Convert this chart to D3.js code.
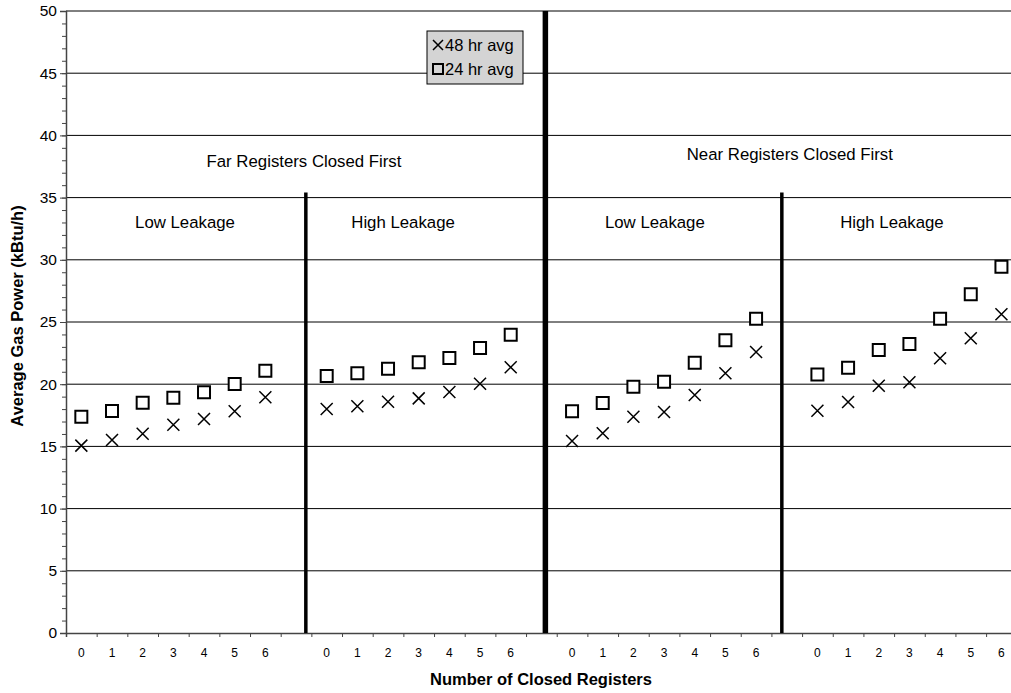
<!DOCTYPE html>
<html>
<head>
<meta charset="utf-8">
<script src="https://cdn.jsdelivr.net/npm/d3@7"></script>
<style>
  html, body { margin: 0; padding: 0; background: #fff; }
  svg { display: block; font-family: "Liberation Sans", Arial, sans-serif; }
</style>
</head>
<body>
<svg id="chart" width="1011" height="693"></svg>
<script>
// ---- data ----
const groupNames = ["Far Low", "Far High", "Near Low", "Near High"];
const registerLabels = ["0", "1", "2", "3", "4", "5", "6"];
const avg48 = [
  [15.06, 15.51, 16.02, 16.74, 17.20, 17.82, 18.95],
  [18.01, 18.22, 18.59, 18.86, 19.37, 20.04, 21.36],
  [15.43, 16.05, 17.39, 17.77, 19.13, 20.88, 22.59],
  [17.87, 18.57, 19.88, 20.15, 22.08, 23.69, 25.62]
];
const avg24 = [
  [17.39, 17.85, 18.51, 18.91, 19.35, 20.02, 21.08],
  [20.66, 20.88, 21.25, 21.76, 22.11, 22.91, 23.98],
  [17.82, 18.49, 19.80, 20.20, 21.73, 23.53, 25.27],
  [20.77, 21.33, 22.75, 23.23, 25.27, 27.23, 29.45]
];
const yTicks = [0, 5, 10, 15, 20, 25, 30, 35, 40, 45, 50];
// separator lines: position in category units, top value, kind
const separators = [
  { pos: 7.82, top: 35.4, kind: "thin" },
  { pos: 15.63, top: 50, kind: "thick" },
  { pos: 23.34, top: 35.4, kind: "thin" }
];
const sectionLabels = [
  { text: "Far Registers Closed First", pos: 7.76, value: 37.5 },
  { text: "Near Registers Closed First", pos: 23.6, value: 38.0 },
  { text: "Low Leakage", pos: 3.88, value: 32.55 },
  { text: "High Leakage", pos: 10.99, value: 32.55 },
  { text: "Low Leakage", pos: 19.2, value: 32.55 },
  { text: "High Leakage", pos: 26.93, value: 32.55 }
];
const legendItems = [
  { label: "48 hr avg", symbol: "x" },
  { label: "24 hr avg", symbol: "square" }
];

// ---- build categories ----
const categories = [];
groupNames.forEach((g, gi) => {
  registerLabels.forEach((r, ri) => categories.push({ group: gi, reg: ri, label: r }));
  if (gi < groupNames.length - 1) categories.push({ group: gi, reg: null, label: "" });
});

// ---- layout ----
const FONT = "Liberation Sans, Arial, sans-serif";
const svg = d3.select("#chart");
const margin = { left: 66, top: 11 };
const plotBottom = 633;
const nCat = categories.length; // 31
const catW = 30.67;
const x = d3.scaleLinear().domain([0, nCat]).range([margin.left, margin.left + nCat * catW]);
const y = d3.scaleLinear().domain([0, 50]).range([plotBottom, margin.top]);

const plotRight = x(nCat);

// gridlines
svg.append("g").selectAll("line").data(yTicks.filter(d => d > 0)).join("line")
  .attr("x1", margin.left).attr("x2", plotRight)
  .attr("y1", d => y(d)).attr("y2", d => y(d))
  .attr("stroke", "#000").attr("stroke-width", 1);

// Y axis with minor ticks
const yMinor = d3.range(0, 51, 1);
const yAxisG = svg.append("g").attr("transform", `translate(${margin.left},0)`);
yAxisG.call(d3.axisLeft(y).tickValues(yMinor).tickSize(4).tickFormat(""))
  .call(g => g.select(".domain").remove())
  .call(g => g.selectAll("line").attr("stroke", "#444"));
const yMajorG = svg.append("g").attr("transform", `translate(${margin.left},0)`);
yMajorG.call(d3.axisLeft(y).tickValues(yTicks).tickSize(6).tickPadding(3))
  .call(g => g.select(".domain").attr("stroke", "#444").attr("stroke-width", 1.5))
  .call(g => g.selectAll("line").attr("stroke", "#444"))
  .call(g => g.selectAll("text").attr("font-size", 15.5).attr("fill", "#000")
    .attr("font-family", FONT));

// X axis line and ticks
const xAxisG = svg.append("g").attr("transform", `translate(0,${plotBottom})`);
xAxisG.call(d3.axisBottom(x).tickValues(d3.range(0, nCat + 1)).tickSize(4).tickFormat(""))
  .call(g => g.select(".domain").attr("stroke", "#444").attr("stroke-width", 1.5))
  .call(g => g.selectAll("line").attr("stroke", "#444"));

// X tick labels
svg.append("g").selectAll("text").data(categories).join("text")
  .attr("x", (d, i) => x(i + 0.5)).attr("y", 657)
  .attr("text-anchor", "middle").attr("font-size", 12).attr("fill", "#000")
  .attr("font-family", FONT)
  .text(d => d.label);

// separators
svg.append("g").selectAll("line").data(separators).join("line")
  .attr("x1", d => x(d.pos)).attr("x2", d => x(d.pos))
  .attr("y1", d => y(d.top)).attr("y2", plotBottom)
  .attr("stroke", "#000")
  .attr("stroke-width", d => d.kind === "thick" ? 5.5 : 3.5);

// section labels
svg.append("g").selectAll("text").data(sectionLabels).join("text")
  .attr("x", d => x(d.pos)).attr("y", d => y(d.value))
  .attr("text-anchor", "middle").attr("font-size", 16.8).attr("fill", "#000")
  .attr("font-family", FONT)
  .text(d => d.text);

// markers
function catIndex(gi, ri) { return gi * 8 + ri; }
const pts48 = [], pts24 = [];
avg48.forEach((arr, gi) => arr.forEach((v, ri) => pts48.push({ i: catIndex(gi, ri), v })));
avg24.forEach((arr, gi) => arr.forEach((v, ri) => pts24.push({ i: catIndex(gi, ri), v })));

const xSym = "M-6,-6L6,6M-6,6L6,-6";
const sqSym = "M-6,-6H6V6H-6Z";
svg.append("g").selectAll("path").data(pts48).join("path")
  .attr("transform", d => `translate(${x(d.i + 0.5)},${y(d.v)})`)
  .attr("d", xSym).attr("fill", "none").attr("stroke", "#000").attr("stroke-width", 1.5);
svg.append("g").selectAll("path").data(pts24).join("path")
  .attr("transform", d => `translate(${x(d.i + 0.5)},${y(d.v)})`)
  .attr("d", sqSym).attr("fill", "#fff").attr("stroke", "#000").attr("stroke-width", 2);

// legend
const lg = svg.append("g").attr("transform", "translate(427,31)");
lg.append("rect").attr("x", 0).attr("y", 0).attr("width", 96).attr("height", 53)
  .attr("fill", "#d4d4d4").attr("stroke", "#000").attr("stroke-width", 1);
const li = lg.selectAll("g.item").data(legendItems).join("g")
  .attr("transform", (d, i) => `translate(0,${14 + i * 24})`);
li.append("path")
  .attr("transform", "translate(11,0)")
  .attr("d", d => d.symbol === "x" ? "M-5,-5L5,5M-5,5L5,-5" : "M-5,-5H5V5H-5Z")
  .attr("fill", "none").attr("stroke", "#000")
  .attr("stroke-width", d => d.symbol === "x" ? 1.5 : 2);
li.append("text").attr("x", 18).attr("y", 6).attr("font-size", 16.5).attr("fill", "#000")
  .attr("font-family", FONT)
  .text(d => d.label);

// axis titles
svg.append("text").attr("x", 541).attr("y", 685).attr("text-anchor", "middle")
  .attr("font-size", 16.5).attr("font-weight", "bold").attr("fill", "#000")
  .attr("font-family", FONT)
  .text("Number of Closed Registers");
svg.append("text").attr("transform", `translate(23,316) rotate(-90)`)
  .attr("text-anchor", "middle")
  .attr("font-size", 16.5).attr("font-weight", "bold").attr("fill", "#000")
  .attr("font-family", FONT)
  .text("Average Gas Power (kBtu/h)");
</script>
</body>
</html>
